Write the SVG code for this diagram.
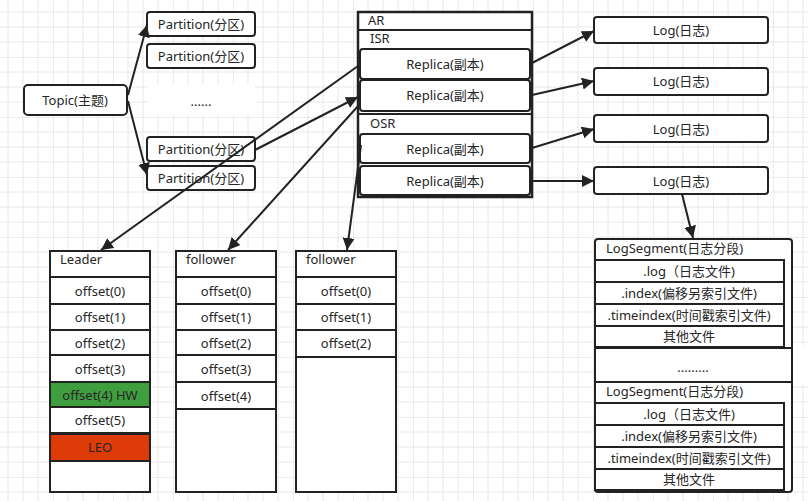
<svg xmlns="http://www.w3.org/2000/svg" width="808" height="501" viewBox="0 0 808 501">
<style>
text{font-family:"Noto Sans","Noto Sans CJK SC",sans-serif;font-size:13px;fill:#262626}
.c{text-anchor:middle}
.box{fill:#fff;stroke:#222;stroke-width:2}
.cell{fill:#fff;stroke:#222;stroke-width:2}
.ln{stroke:#222;stroke-width:2;fill:none;marker-end:url(#ah)}
</style>
<defs>
<pattern id="grid" patternUnits="userSpaceOnUse" x="-7" y="-3" width="60" height="60">
<path d="M15 0V60M30 0V60M45 0V60M0 15H60M0 30H60M0 45H60" stroke="#e8e8e8" stroke-width="1" fill="none"/>
<path d="M0 0V60M0 0H60" stroke="#dadada" stroke-width="1" fill="none"/>
</pattern>
<marker id="ah" viewBox="0 0 10 10" refX="10" refY="5" markerWidth="6" markerHeight="6" orient="auto" markerUnits="strokeWidth">
<path d="M0 0L10 5L0 10z" fill="#222"/>
</marker>
</defs>
<rect width="808" height="501" fill="#fff"/>
<rect width="808" height="501" fill="url(#grid)"/>
<rect x="147" y="84" width="108" height="31" fill="#fff"/>
<rect x="792" y="346" width="16" height="38" fill="#fff"/>

<g id="topic"><rect class="box" x="24" y="85" width="103" height="30" rx="4"/><text class="c" x="75" y="105">Topic(主题)</text></g>
<g id="partition1"><rect class="box" x="147" y="12" width="108" height="24" rx="3"/><text class="c" x="201" y="29">Partition(分区)</text></g>
<g id="partition2"><rect class="box" x="147" y="44" width="108" height="24" rx="3"/><text class="c" x="201" y="61">Partition(分区)</text></g>
<g id="dots1"><text class="c" x="201" y="106">......</text></g>
<g id="partition3"><rect class="box" x="147" y="137" width="108" height="24" rx="3"/><text class="c" x="201" y="154">Partition(分区)</text></g>
<g id="partition4"><rect class="box" x="147" y="166" width="108" height="24" rx="3"/><text class="c" x="201" y="183">Partition(分区)</text></g>

<g id="ar">
<rect x="358" y="12" width="174" height="185" fill="#fff" stroke="#222" stroke-width="2.5"/>
<line x1="358" y1="30" x2="532" y2="30" stroke="#222" stroke-width="2"/>
<text x="368" y="25">AR</text>
<text x="370" y="43">ISR</text>
<rect class="box" x="360" y="49" width="170" height="30" rx="3"/><text class="c" x="445" y="69">Replica(副本)</text>
<rect class="box" x="360" y="80" width="170" height="31" rx="3"/><text class="c" x="445" y="100">Replica(副本)</text>
<line x1="358" y1="114" x2="532" y2="114" stroke="#222" stroke-width="2"/>
<text x="370" y="128">OSR</text>
<rect class="box" x="360" y="134" width="170" height="29" rx="3"/><text class="c" x="445" y="154">Replica(副本)</text>
<rect class="box" x="360" y="166" width="170" height="29" rx="3"/><text class="c" x="445" y="186">Replica(副本)</text>
</g>

<g id="log1"><rect class="box" x="594" y="17" width="174" height="26" rx="3"/><text class="c" x="681" y="35">Log(日志)</text></g>
<g id="log2"><rect class="box" x="594" y="68" width="174" height="27" rx="3"/><text class="c" x="681" y="86">Log(日志)</text></g>
<g id="log3"><rect class="box" x="594" y="115" width="174" height="27" rx="3"/><text class="c" x="681" y="134">Log(日志)</text></g>
<g id="log4"><rect class="box" x="594" y="167" width="174" height="27" rx="3"/><text class="c" x="681" y="186">Log(日志)</text></g>

<g id="logsegments">
<rect x="595" y="239" width="197" height="253" rx="3" fill="#fff" stroke="#222" stroke-width="2"/>
<text x="606" y="253">LogSegment(日志分段)</text>
<rect class="cell" x="595" y="260" width="189" height="22"/><text class="c" x="689" y="276">.log（日志文件)</text>
<rect class="cell" x="595" y="282" width="189" height="22"/><text class="c" x="689" y="298">.index(偏移另索引文件)</text>
<rect class="cell" x="595" y="304" width="189" height="22"/><text class="c" x="689" y="320">.timeindex(时间戳索引文件)</text>
<rect class="cell" x="595" y="326" width="189" height="21"/><text class="c" x="689" y="341">其他文件</text>
<line x1="595" y1="348" x2="792" y2="348" stroke="#222" stroke-width="2"/>
<text class="c" x="693" y="372">.........</text>
<line x1="595" y1="382" x2="792" y2="382" stroke="#222" stroke-width="2"/>
<text x="606" y="396">LogSegment(日志分段)</text>
<rect class="cell" x="595" y="403" width="189" height="22"/><text class="c" x="689" y="419">.log（日志文件)</text>
<rect class="cell" x="595" y="425" width="189" height="22"/><text class="c" x="689" y="441">.index(偏移另索引文件)</text>
<rect class="cell" x="595" y="447" width="189" height="22"/><text class="c" x="689" y="463">.timeindex(时间戳索引文件)</text>
<rect class="cell" x="595" y="469" width="189" height="21"/><text class="c" x="689" y="484">其他文件</text>
</g>

<g id="leader">
<rect class="cell" x="50" y="251" width="100" height="241"/>
<text x="60" y="264">Leader</text>
<rect class="cell" x="50" y="277" width="100" height="27"/><text class="c" x="100" y="296">offset(0)</text>
<rect class="cell" x="50" y="304" width="100" height="26"/><text class="c" x="100" y="322">offset(1)</text>
<rect class="cell" x="50" y="330" width="100" height="25"/><text class="c" x="100" y="348">offset(2)</text>
<rect class="cell" x="50" y="355" width="100" height="27"/><text class="c" x="100" y="374">offset(3)</text>
<rect x="50" y="382" width="100" height="25" fill="#3f9f3f" stroke="#222" stroke-width="2"/><text class="c" x="100" y="400">offset(4) HW</text>
<rect class="cell" x="50" y="407" width="100" height="26"/><text class="c" x="100" y="425">offset(5)</text>
<rect x="50" y="434" width="100" height="27" fill="#dd3c08" stroke="#222" stroke-width="2"/><text class="c" x="100" y="452">LEO</text>
</g>

<g id="follower1">
<rect class="cell" x="176" y="251" width="100" height="241"/>
<text x="186" y="264">follower</text>
<rect class="cell" x="176" y="277" width="100" height="27"/><text class="c" x="226" y="296">offset(0)</text>
<rect class="cell" x="176" y="304" width="100" height="26"/><text class="c" x="226" y="322">offset(1)</text>
<rect class="cell" x="176" y="330" width="100" height="25"/><text class="c" x="226" y="348">offset(2)</text>
<rect class="cell" x="176" y="355" width="100" height="27"/><text class="c" x="226" y="374">offset(3)</text>
<rect class="cell" x="176" y="382" width="100" height="27"/><text class="c" x="226" y="401">offset(4)</text>
</g>

<g id="follower2">
<rect class="cell" x="296" y="251" width="100" height="241"/>
<text x="306" y="264">follower</text>
<rect class="cell" x="296" y="277" width="100" height="27"/><text class="c" x="346" y="296">offset(0)</text>
<rect class="cell" x="296" y="304" width="100" height="26"/><text class="c" x="346" y="322">offset(1)</text>
<rect class="cell" x="296" y="330" width="100" height="27"/><text class="c" x="346" y="348">offset(2)</text>
</g>

<g id="connectors">
<line class="ln" x1="128" y1="95" x2="147" y2="25"/>
<line class="ln" x1="128" y1="101" x2="147" y2="175"/>
<line class="ln" x1="255" y1="150" x2="358" y2="97"/>
<line class="ln" x1="358" y1="66" x2="101" y2="250"/>
<line class="ln" x1="359" y1="105" x2="228" y2="250"/>
<line class="ln" x1="361" y1="145" x2="347" y2="250"/>
<line class="ln" x1="532" y1="63" x2="594" y2="31"/>
<line class="ln" x1="532" y1="95" x2="594" y2="81"/>
<line class="ln" x1="532" y1="148" x2="594" y2="129"/>
<line class="ln" x1="532" y1="181" x2="594" y2="181"/>
<line class="ln" x1="682" y1="194" x2="693" y2="238"/>
</g>
</svg>
